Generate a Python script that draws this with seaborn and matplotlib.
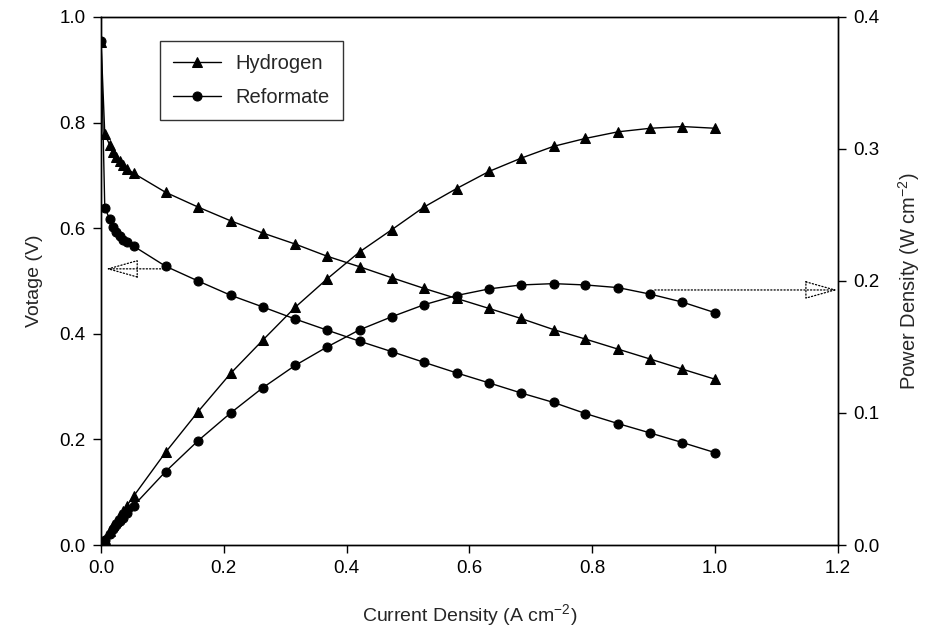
import numpy as np
import pandas as pd
import matplotlib
matplotlib.use('Agg')
import matplotlib.pyplot as plt
import seaborn as sns

# current density (A cm-2), shared by both fuels
current = [0.0, 0.006, 0.014, 0.020, 0.025, 0.031, 0.036, 0.042, 0.053,
           0.105, 0.158, 0.211, 0.263, 0.316, 0.368, 0.421, 0.474, 0.526,
           0.579, 0.632, 0.684, 0.737, 0.789, 0.842, 0.895, 0.947, 1.0]

# cell voltage (V)
volt_h2 = [0.952, 0.778, 0.758, 0.745, 0.735, 0.728, 0.720, 0.713, 0.704,
           0.668, 0.640, 0.614, 0.591, 0.570, 0.547, 0.527, 0.506, 0.486,
           0.467, 0.448, 0.429, 0.408, 0.390, 0.371, 0.352, 0.333, 0.314]
volt_ref = [0.955, 0.639, 0.617, 0.603, 0.593, 0.585, 0.578, 0.573, 0.566,
            0.528, 0.500, 0.473, 0.451, 0.428, 0.407, 0.386, 0.366, 0.346,
            0.326, 0.307, 0.288, 0.270, 0.249, 0.230, 0.212, 0.194, 0.175]

# power density (W cm-2)
power_h2 = [0.0, 0.0047, 0.0106, 0.0149, 0.0184, 0.0226, 0.0259, 0.0299, 0.0370,
            0.0702, 0.101, 0.130, 0.155, 0.180, 0.2015, 0.222, 0.239, 0.256,
            0.270, 0.283, 0.293, 0.302, 0.308, 0.313, 0.3157, 0.317, 0.3157]
power_ref = [0.0, 0.0038, 0.0086, 0.0121, 0.0148, 0.0181, 0.0208, 0.0241, 0.0298,
             0.0556, 0.079, 0.100, 0.119, 0.136, 0.150, 0.163, 0.173, 0.182,
             0.189, 0.194, 0.197, 0.198, 0.197, 0.195, 0.190, 0.184, 0.176]

df = pd.DataFrame({'current': current, 'volt_h2': volt_h2, 'volt_ref': volt_ref,
                   'power_h2': power_h2, 'power_ref': power_ref})

sns.set_style('ticks')
plt.rcParams['font.family'] = ['Liberation Sans', 'DejaVu Sans']
plt.rcParams['font.size'] = 13
plt.rcParams['mathtext.fontset'] = 'custom'
plt.rcParams['mathtext.rm'] = 'Liberation Sans'
plt.rcParams['mathtext.it'] = 'Liberation Sans'

fig = plt.figure(figsize=(9.36, 6.43), dpi=100)
ax = fig.add_axes([0.108, 0.1524, 0.787, 0.8212])
ax2 = ax.twinx()

line_kw = dict(color='black', linewidth=1, estimator=None, sort=False, markeredgecolor='black')
sns.lineplot(data=df, x='current', y='volt_h2', marker='^', markersize=7.5, ax=ax, label='Hydrogen', **line_kw)
sns.lineplot(data=df, x='current', y='volt_ref', marker='o', markersize=6.5, ax=ax, label='Reformate', **line_kw)
sns.lineplot(data=df, x='current', y='power_h2', marker='^', markersize=7.5, ax=ax2, legend=False, **line_kw)
sns.lineplot(data=df, x='current', y='power_ref', marker='o', markersize=6.5, ax=ax2, legend=False, **line_kw)

ax.set_xlim(0, 1.2)
ax.set_ylim(0, 1.0)
ax2.set_ylim(0, 0.4)
ax.set_xticks(np.arange(0, 1.21, 0.2))
ax.set_yticks(np.arange(0, 1.01, 0.2))
ax2.set_yticks(np.arange(0, 0.41, 0.1))
ax.xaxis.set_major_formatter(matplotlib.ticker.FormatStrFormatter('%.1f'))
ax.yaxis.set_major_formatter(matplotlib.ticker.FormatStrFormatter('%.1f'))
ax2.yaxis.set_major_formatter(matplotlib.ticker.FormatStrFormatter('%.1f'))

for a in (ax, ax2):
    for s in a.spines.values():
        s.set_visible(True)
        s.set_linewidth(1)
        s.set_color('black')
    a.tick_params(direction='out', length=6, width=1, colors='black', labelsize=13.5, pad=5)

ax.set_xlabel('Current Density (A cm$^{-2}$)', fontsize=14, labelpad=18)
ax.set_ylabel('Votage (V)', fontsize=14, labelpad=12)
ax2.set_ylabel('Power Density (W cm$^{-2}$)', fontsize=14.5, labelpad=12)

# dotted arrows pointing to the matching axis
arrow_kw = dict(arrowstyle='-|>,head_length=1.6,head_width=0.45', linestyle=':',
                color='black', lw=0.9, fill=False, shrinkA=0, shrinkB=0)
ax.annotate('', xy=(0.008, 0.523), xytext=(0.108, 0.523), arrowprops=arrow_kw)
ax.annotate('', xy=(1.199, 0.483), xytext=(0.902, 0.483), arrowprops=arrow_kw)

leg = ax.legend(loc='upper left', bbox_to_anchor=(0.08, 0.955), frameon=True, fancybox=False,
                edgecolor='black', fontsize=14.5, handlelength=2.4, labelspacing=0.75,
                borderpad=0.65, handletextpad=0.7, borderaxespad=0)
leg.get_frame().set_linewidth(1)

fig.savefig('out.png', dpi=100)
